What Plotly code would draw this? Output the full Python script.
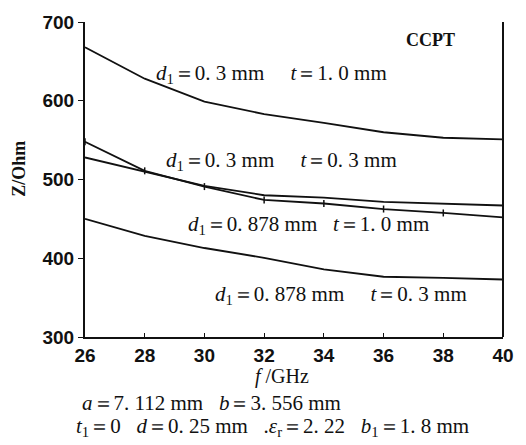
import plotly.graph_objects as go

freq = [26, 28, 30, 32, 34, 36, 38, 40]
z_d03_t10 = [668, 628, 599, 583, 572, 560, 553, 551]
z_d03_t03 = [528, 510, 492, 480, 477, 471.5, 469.5, 467]
z_d0878_t10 = [548, 511, 491, 474, 469.5, 462.5, 457.5, 452]
z_d0878_t03 = [450, 428.5, 413, 400.5, 386, 376.5, 375, 373]

x_ticks = [26, 28, 30, 32, 34, 36, 38, 40]
y_ticks = [300, 400, 500, 600, 700]

serif = "Liberation Serif"
sans = "Liberation Sans"
ink = "#111111"

fig = go.Figure()
for ys in [z_d03_t10, z_d03_t03, z_d0878_t03]:
    fig.add_trace(go.Scatter(x=freq, y=ys, mode="lines",
                             line=dict(color=ink, width=1.8), showlegend=False))
fig.add_trace(go.Scatter(x=freq, y=z_d0878_t10, mode="lines+markers",
                         line=dict(color=ink, width=1.8),
                         marker=dict(symbol="line-ns", size=5,
                                     line=dict(color=ink, width=1.5)),
                         showlegend=False))

fig.update_layout(
    width=526, height=445,
    margin=dict(l=85, r=16, t=15, b=108),
    paper_bgcolor="white", plot_bgcolor="white",
    xaxis=dict(range=[26, 40], tickvals=x_ticks, ticktext=[str(v) for v in x_ticks],
               showgrid=False, zeroline=False, showline=True, linecolor=ink, linewidth=2,
               ticks="inside", ticklen=4, tickcolor=ink,
               tickfont=dict(family=sans, size=19, color=ink, weight="bold")),
    yaxis=dict(range=[300, 700], tickvals=y_ticks, ticktext=[str(v) for v in y_ticks],
               showgrid=False, zeroline=False, showline=True, linecolor=ink, linewidth=2,
               ticks="outside", ticklen=5, tickcolor=ink,
               tickfont=dict(family=sans, size=19, color=ink, weight="bold")),
    shapes=[dict(type="line", xref="paper", yref="paper", x0=1, x1=1, y0=0, y1=1,
                 line=dict(color=ink, width=2))],
)

L, R, T, B = 85, 510, 15, 337
def pp(xp, yp, text, size=21, xanchor="left", **kw):
    fig.add_annotation(text=text, x=(xp - L) / (R - L), y=(B - yp) / (B - T),
                       xref="paper", yref="paper", showarrow=False,
                       xanchor=xanchor, yanchor="middle",
                       font=dict(family=serif, size=size, color=ink), **kw)

S = "&nbsp;"
EQ = "＝"
pp(409, 33, "<b>CCPT</b>", size=18)
pp(155, 68, f"<i>d</i><sub>1</sub>{EQ}0. 3 mm{S*5}<i>t</i>{EQ}1. 0 mm")
pp(165, 157, f"<i>d</i><sub>1</sub>{EQ}0. 3 mm{S*5}<i>t</i>{EQ}0. 3 mm")
pp(188, 223, f"<i>d</i><sub>1</sub>{EQ}0. 878 mm{S*3}<i>t</i>{EQ}1. 0 mm")
pp(215, 294, f"<i>d</i><sub>1</sub>{EQ}0. 878 mm{S*5}<i>t</i>{EQ}0. 3 mm")
pp(285, 377, "<i>f</i> /GHz", size=20, xanchor="center")
pp(80, 404, f"<i>a</i>{EQ}7. 112 mm{S*3}<i>b</i>{EQ}3. 556 mm")
pp(74, 429, f"<i>t</i><sub>1</sub>{EQ}0{S*3}<i>d</i>{EQ}0. 25 mm{S*3}.<i>ε</i><sub>r</sub>{EQ}2. 22{S*3}<i>b</i><sub>1</sub>{EQ}1. 8 mm")
pp(18, 165, "<b>Z/Ohm</b>", size=18, xanchor="center", textangle=-90)

fig.write_html("out.html", config={"displayModeBar": False},
               post_script="document.body.style.margin='0';document.body.style.overflow='hidden';")
